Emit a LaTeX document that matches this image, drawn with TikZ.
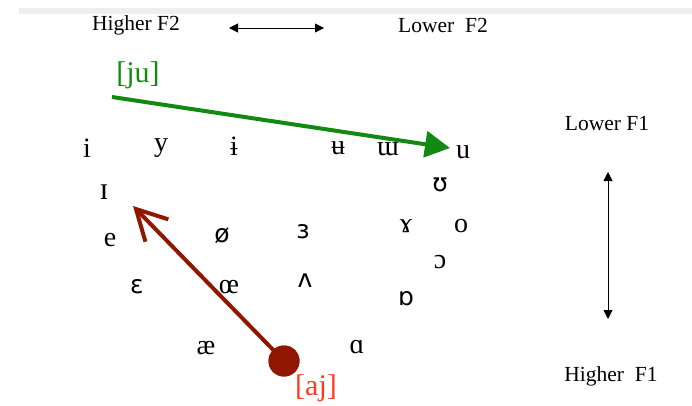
\documentclass[tikz,border=0pt]{standalone}
\usepackage{fontspec}
\setmainfont{Liberation Serif}
\newfontfamily\ipasans{DejaVu Sans}
\usetikzlibrary{arrows.meta}
\definecolor{jugreen}{RGB}{18,138,18}
\definecolor{ajdark}{RGB}{145,22,0}
\definecolor{ajlabel}{RGB}{250,60,35}
\definecolor{bargray}{RGB}{238,238,238}
\begin{document}
\begin{tikzpicture}[x=1pt,y=-1pt,
  axislab/.style={font=\fontsize{21.5}{25}\selectfont, inner sep=0pt, text=black},
  vowel/.style={font=\fontsize{28}{32}\selectfont, inner sep=0pt, text=black},
  svowel/.style={font=\ipasans\fontsize{25}{29}\selectfont, inner sep=0pt, text=black},
  diphlab/.style={font=\fontsize{30}{34}\selectfont, inner sep=0pt},
  axisarrow/.style={{Triangle[length=9pt,width=9pt]}-{Triangle[length=9pt,width=9pt]}, line width=0.9pt, black},
  juarrow/.style={-{Triangle[length=25pt,width=26pt]}, line width=4pt, jugreen},
  ajarrow/.style={-{Straight Barb[length=30pt,width=32pt,line width=4pt]}, line width=4pt, ajdark}]
\useasboundingbox (0,0) rectangle (692,406);
\fill[bargray] (19,8) rectangle (692,14);

% axis labels
\node[axislab] (hf2) at (136,25) {Higher F2};
\node[axislab] (lf2) at (443,25) {Lower\ \ F2};
\node[axislab] (lf1) at (607,124) {Lower F1};
\node[axislab] (hf1) at (611,376) {Higher\ \ F1};
\coordinate (f2l) at (229,28);
\coordinate (f2r) at (324,28);
\coordinate (f1t) at (608,172);
\coordinate (f1b) at (608,319);
\draw[axisarrow] (f2l) -- (f2r);
\draw[axisarrow] (f1t) -- (f1b);

% vowels
\node[vowel] (vi)   at (87,148)  {i};
\node[vowel] (vy)   at (161,148) {y};
\node[vowel] (vib)  at (234,146) {ɨ};
\node[vowel] (vub)  at (338,148) {ʉ};
\node[vowel] (vmw)  at (388,149) {ɯ};
\node[vowel] (vu)   at (463,152) {u};
\node[vowel, font=\fontsize{32}{36}\selectfont] (vI) at (104,192) {ɪ};
\node[svowel] (vU)  at (440,185) {ʊ};
\node[vowel] (ve)   at (110,240) {e};
\node[svowel] (voe) at (222,236) {ø};
\node[svowel] (vrev) at (303,232) {ɜ};
\node[vowel] (vgam) at (406,226) {ɤ};
\node[vowel] (vo)   at (461,226) {o};
\node[vowel] (vopo) at (440,262) {ɔ};
\node[svowel] (veps) at (137,287) {ɛ};
\node[vowel] (voel) at (229,287) {œ};
\node[svowel] (vwed) at (305,281) {ʌ};
\node[svowel] (vtur) at (406,299) {ɒ};
\node[vowel] (vae)  at (206,348) {æ};
\node[vowel] (vaa)  at (357,347) {ɑ};

% [ju]
\node[diphlab, text=jugreen] (ju) at (138,75) {[ju]};
\coordinate (justart) at (112,97);
\coordinate (juend) at (450,148);
\draw[juarrow] (justart) -- (juend);

% [aj]
\node[circle, fill=ajdark, minimum size=31pt, inner sep=0pt] (ajdot) at (284,361) {};
\coordinate (ajtip) at (133,206);
\draw[ajarrow] (ajdot.center) -- (ajtip);
\node[circle, fill=ajdark, minimum size=31pt, inner sep=0pt] at (ajdot.center) {};
\node[diphlab, text=ajlabel] (aj) at (316,388) {[aj]};
\end{tikzpicture}
\end{document}
